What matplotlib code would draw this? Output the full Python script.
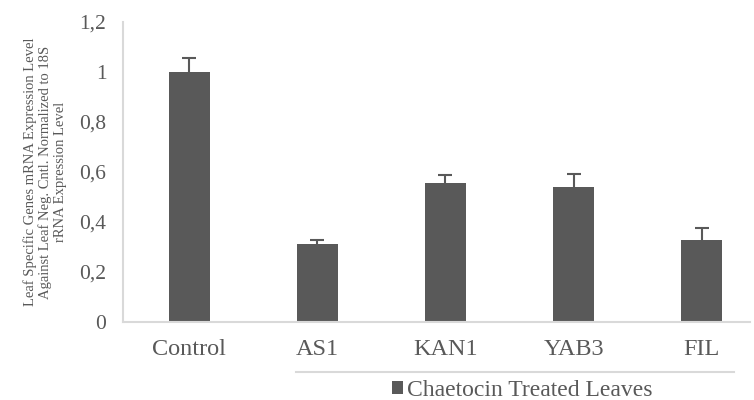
import matplotlib.pyplot as plt
from matplotlib.lines import Line2D
from matplotlib.ticker import FuncFormatter

# data
genes = ['Control', 'AS1', 'KAN1', 'YAB3', 'FIL']
expression = [1.0, 0.312, 0.556, 0.54, 0.328]
errors = [0.057, 0.018, 0.03, 0.05, 0.05]
legend_label = 'Chaetocin Treated Leaves'
ylabel = ('Leaf Specific Genes mRNA Expression Level\n'
          'Against Leaf Neg. Cntl. Normalized to 18S\n'
          'rRNA Expression Level')

grey = '#595959'
light = '#d9d9d9'
plt.rcParams['font.family'] = 'Liberation Serif'

fig = plt.figure(figsize=(7.54, 4.0), dpi=100)
ax = fig.add_axes([123/754, 78/400, 627/754, 300/400])

bars = ax.bar(range(len(genes)), expression, width=0.32, color=grey,
              label=legend_label, zorder=2)
ax.errorbar(range(len(genes)), expression, yerr=errors, fmt='none',
            ecolor=grey, elinewidth=1.5, capsize=4.7, capthick=1.5, zorder=3)

ax.set_xlim(-0.515, 4.375)
ax.set_ylim(0, 1.2)
ax.set_yticks([0, 0.2, 0.4, 0.6, 0.8, 1.0, 1.2])
ax.yaxis.set_major_formatter(FuncFormatter(lambda v, p: ('%g' % round(v, 2)).replace('.', ',')))
ax.set_xticks(range(len(genes)))
ax.set_xticklabels(genes)

for s in ['top', 'right']:
    ax.spines[s].set_visible(False)
for s in ['left', 'bottom']:
    ax.spines[s].set_color(light)
    ax.spines[s].set_linewidth(1.5)

ax.tick_params(axis='y', length=0, pad=12, labelsize=15.5, labelcolor=grey)
ax.tick_params(axis='x', length=0, pad=12, labelsize=17.5, labelcolor=grey)

ax.set_ylabel(ylabel, fontsize=10.5, color=grey, linespacing=1.15, labelpad=9)

# grouping line under the treated genes
fig.add_artist(Line2D([296/754, 734/754], [28/400, 28/400], color=light, lw=1.5))

fig.legend(handles=[bars], labels=[legend_label], loc='center',
           bbox_to_anchor=(522/754, 9.5/400), frameon=False, fontsize=17,
           labelcolor=grey, handlelength=0.5, handleheight=0.5,
           handletextpad=0.15, borderpad=0)

fig.savefig('out.png', dpi=100)
